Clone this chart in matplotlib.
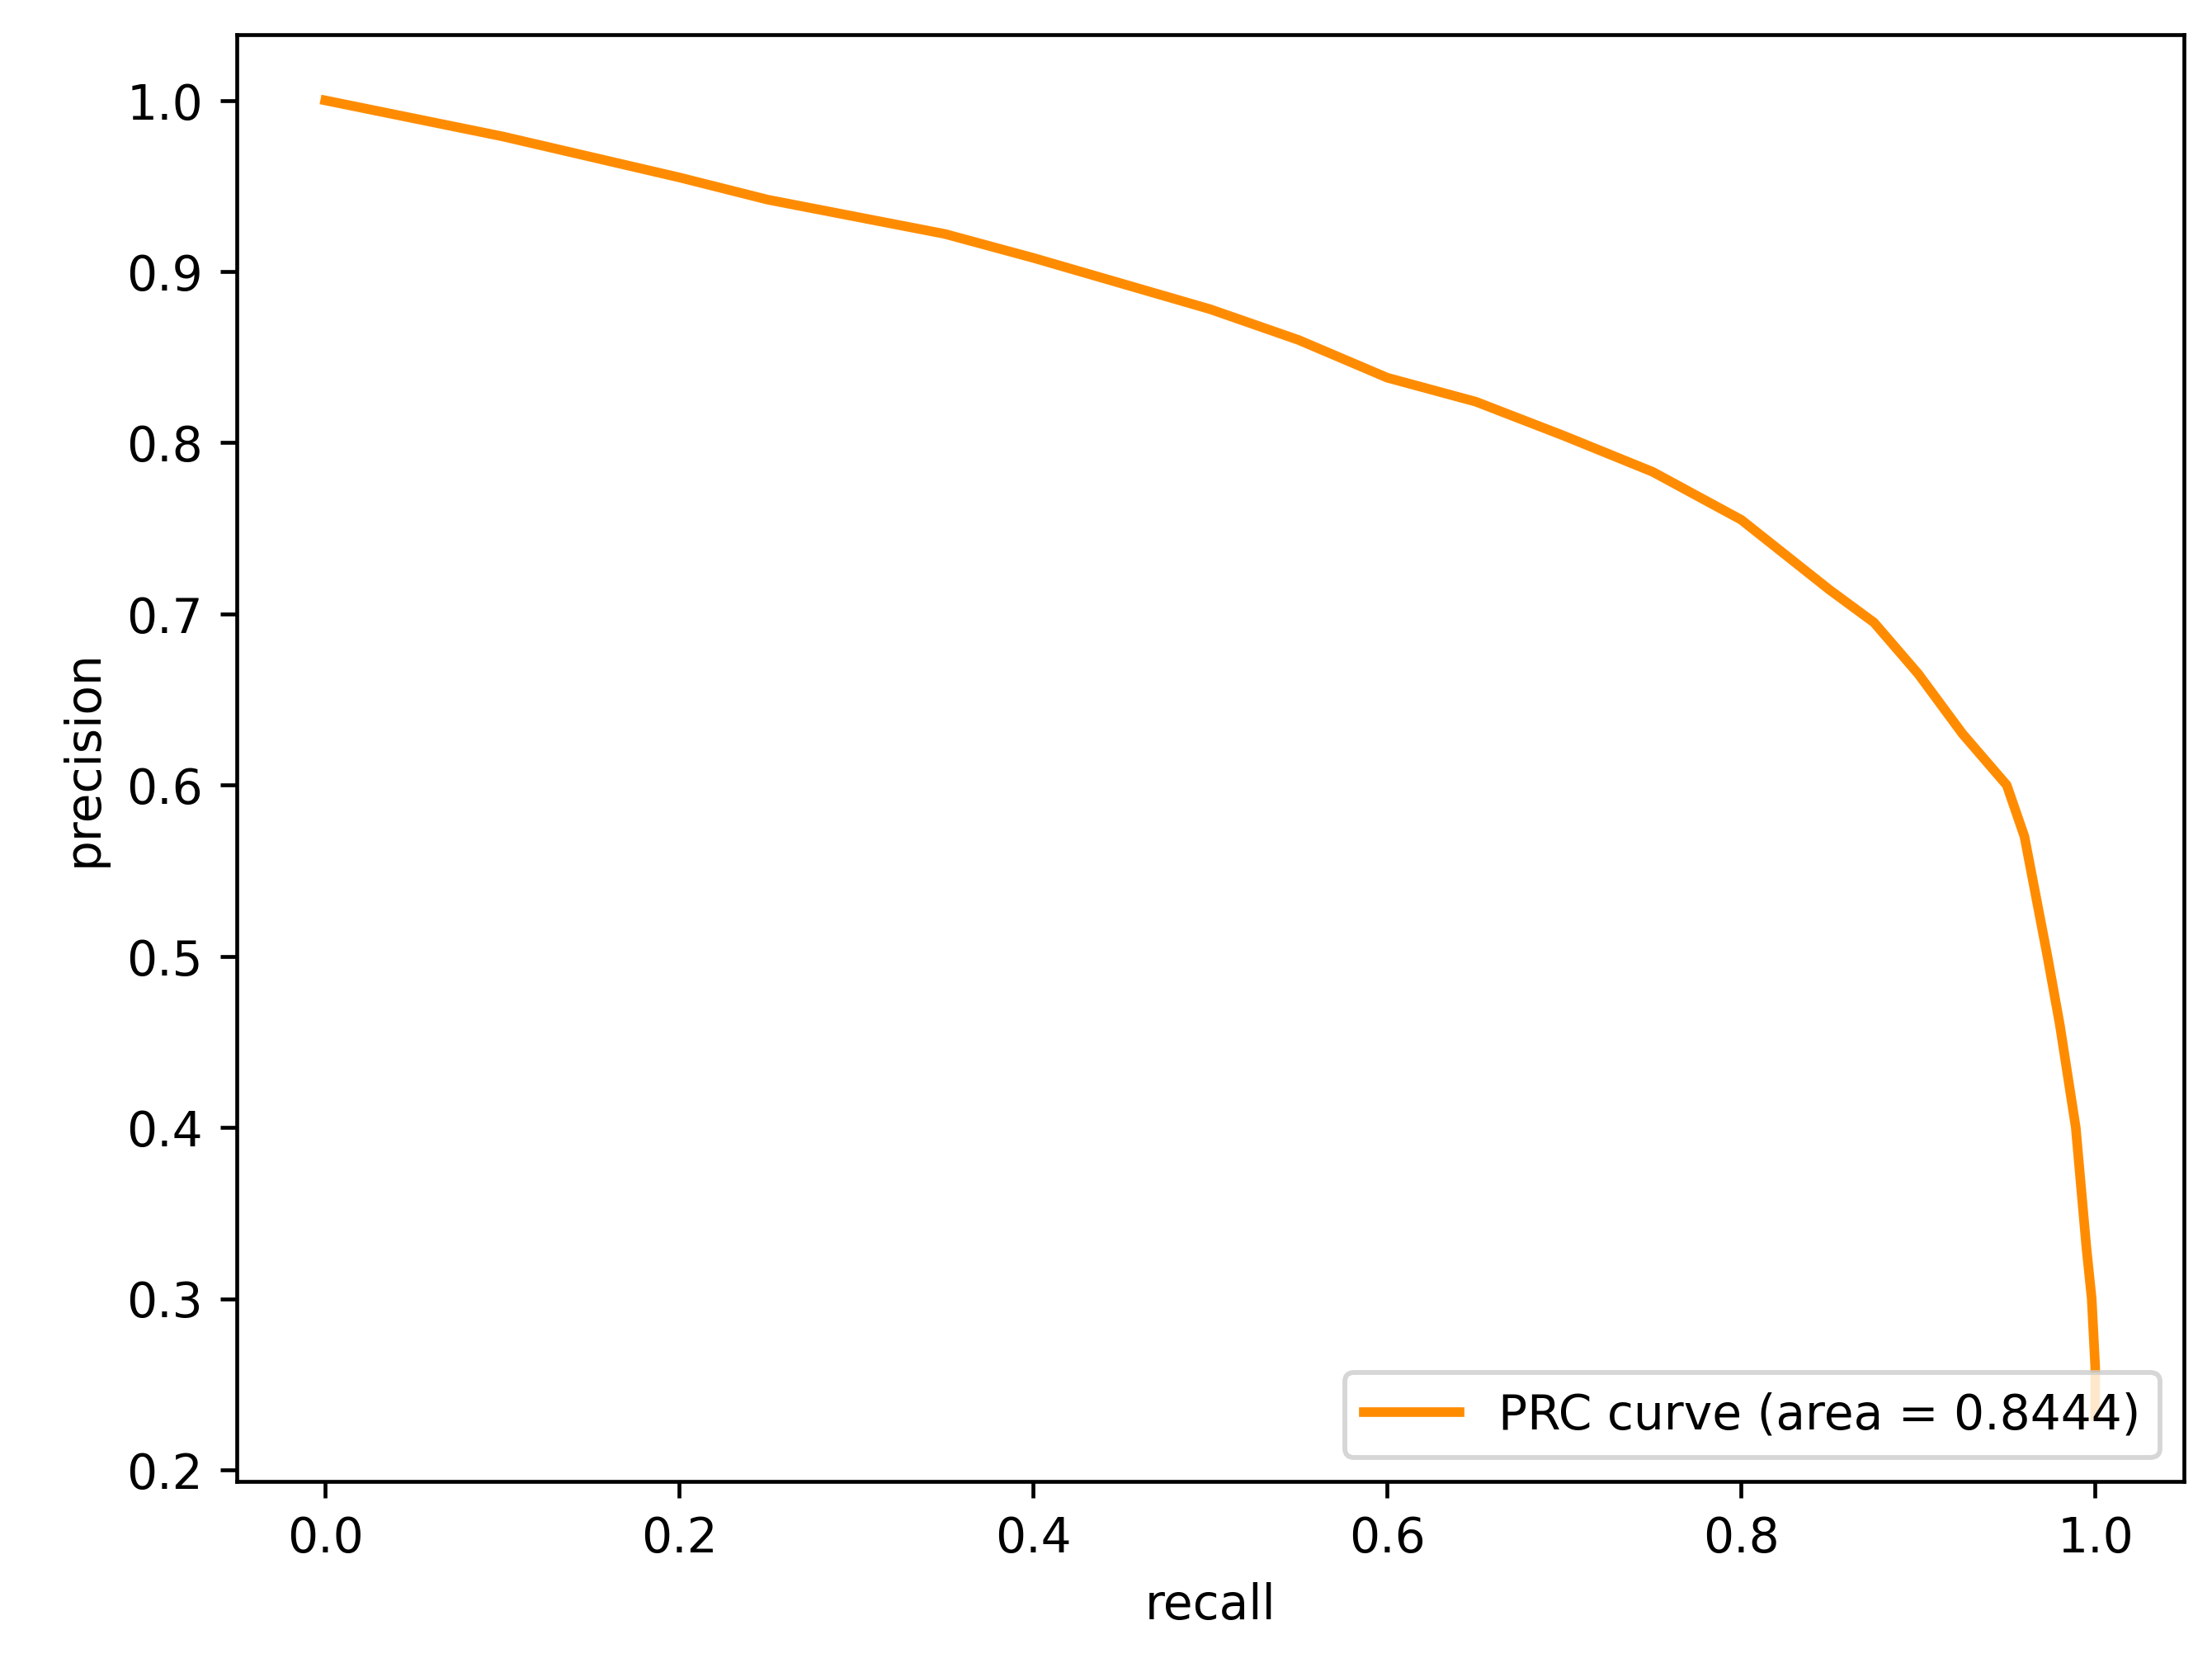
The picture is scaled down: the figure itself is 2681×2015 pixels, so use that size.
import matplotlib
matplotlib.use("Agg")
import matplotlib.pyplot as plt

recall = [0.0, 0.1, 0.2, 0.25, 0.3, 0.35, 0.4, 0.45, 0.5, 0.55, 0.6, 0.65, 0.7, 0.75,
          0.8, 0.85, 0.875, 0.9, 0.925, 0.95, 0.96, 0.973, 0.98, 0.989, 0.995, 0.998, 1.0, 1.0]
precision = [1.0, 0.979, 0.955, 0.942, 0.932, 0.922, 0.908, 0.893, 0.878, 0.860, 0.838, 0.824,
             0.804, 0.783, 0.755, 0.714, 0.695, 0.665, 0.630, 0.600, 0.57, 0.50, 0.46, 0.40,
             0.33, 0.30, 0.26, 0.2315]
label = "PRC curve (area = 0.8444)"

fig = plt.figure(figsize=(6.4, 4.81), dpi=419)
ax = fig.add_axes([0.107, 0.109, 0.88, 0.870])
ax.plot(recall, precision, color="darkorange", lw=2, label=label)
ax.set_xlabel("recall")
ax.set_ylabel("precision")
ax.legend(loc="lower right")
fig.savefig("out.png", dpi=419)
